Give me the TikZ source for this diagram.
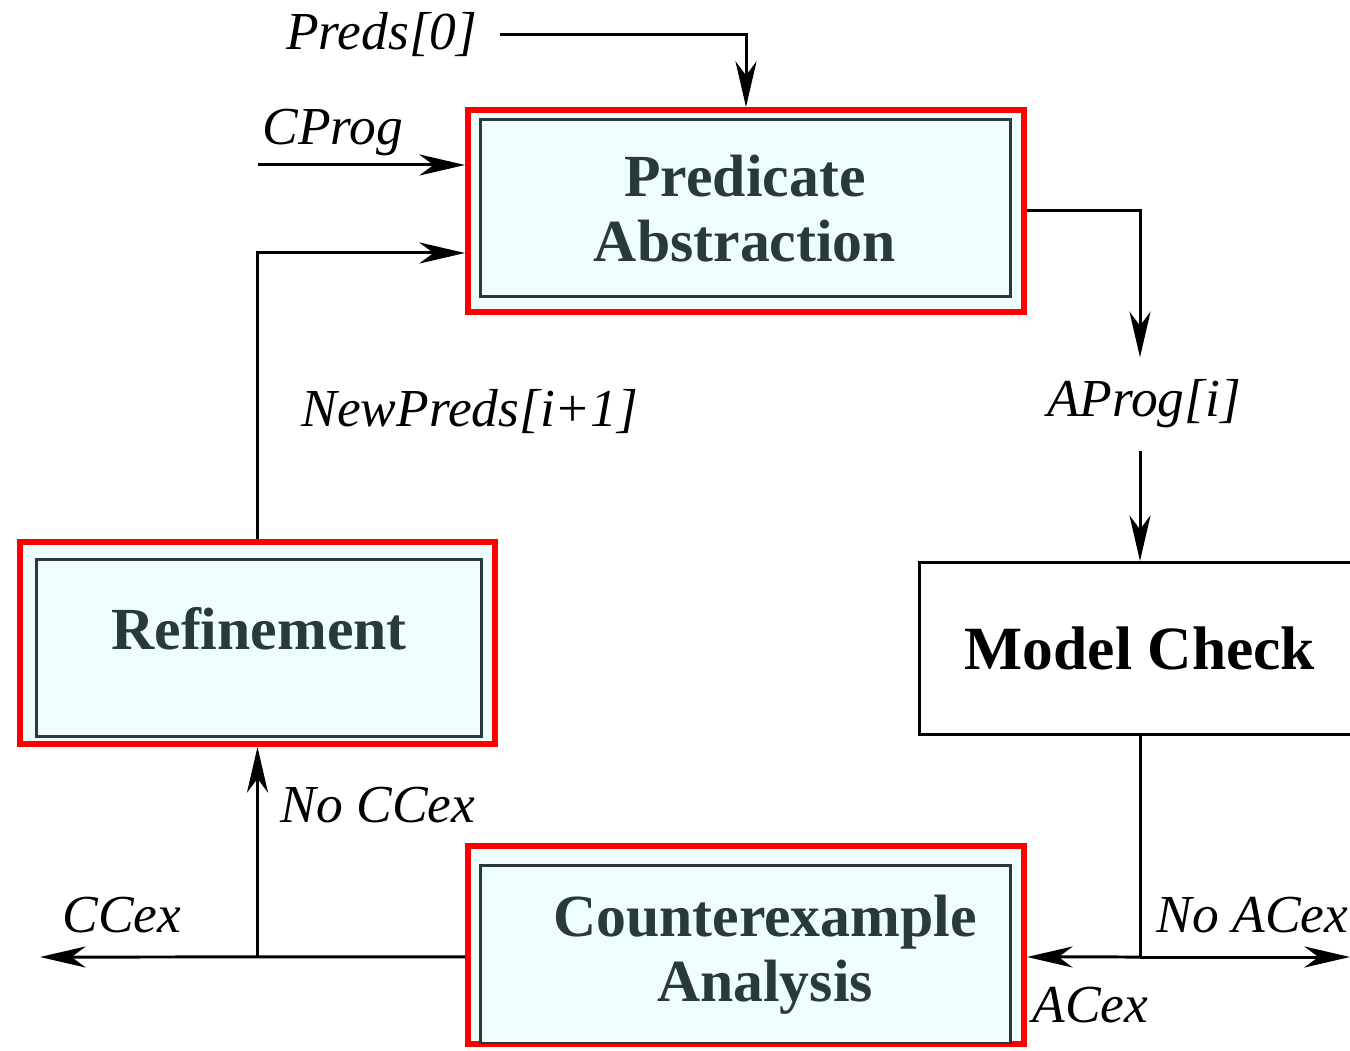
\documentclass[tikz,border=0pt]{standalone}
\usepackage{fontspec}
\setmainfont{Liberation Serif}
\usepackage{tikz}
\usetikzlibrary{arrows.meta, positioning, calc}
\definecolor{framered}{RGB}{255,0,0}
\definecolor{boxfill}{RGB}{238,253,253}
\definecolor{boxdark}{RGB}{40,58,58}
\tikzset{
  redframe/.style={rectangle, draw=framered, fill=boxfill, line width=0.06cm,
    minimum width=5.56cm, minimum height=2.02cm, inner sep=0pt},
  innerbox/.style={rectangle, draw=boxdark, fill=boxfill, line width=0.03cm,
    minimum width=5.3cm, minimum height=1.77cm, inner sep=0pt, align=center,
    text=boxdark, font=\fontsize{17}{18.5}\selectfont\bfseries},
  plainbox/.style={rectangle, draw=black, line width=0.03cm,
    minimum width=4.41cm, minimum height=1.72cm,
    font=\fontsize{17.5}{20}\selectfont\bfseries},
  lbl/.style={inner sep=0pt, font=\fontsize{15.2}{18}\selectfont\itshape},
  arrow/.style={-{Stealth[length=13pt, width=6pt, inset=4pt]}, line width=0.03cm},
  line/.style={line width=0.03cm}
}
\begin{document}
\begin{tikzpicture}
  \useasboundingbox (0,0) rectangle (13.5,10.5);

  % Boxes
  \node[redframe] (pa) at (7.46, 8.39) {};
  \node[innerbox] (pain) at (7.45, 8.415) {Predicate\\Abstraction};
  \node[redframe, minimum width=4.75cm] (ref) at (2.575, 4.07) {};
  \node[innerbox, minimum width=4.44cm, text depth=0.41cm] (refin) at (2.59, 4.015) {Refinement};
  \node[redframe, minimum height=1.98cm] (ce) at (7.46, 1.05) {};
  \node[innerbox] (cein) at (7.45, 0.955) {\hspace*{0.4cm}Counterexample\\\hspace*{0.4cm}Analysis};
  \node[plainbox] (mc) at (11.40, 4.015) {Model Check};

  % Labels
  \node[lbl, anchor=east, inner xsep=0.22cm] (preds) at (5.00, 10.15) {Preds[0]};
  \node[lbl, anchor=base west] (cprog) at (2.62, 9.05) {CProg};
  \coordinate (cprogin) at (2.58, 8.85);
  \node[lbl] (newpreds) at (4.70, 6.38) {NewPreds[i+1]};
  \node[lbl, minimum height=0.92cm] (aprog) at (11.44, 6.46) {AProg[i]};
  \node[lbl, anchor=base west] (nocex) at (2.80, 2.27) {No CCex};
  \node[lbl, anchor=base west] (ccex) at (0.62, 1.17) {CCex};
  \node[lbl, anchor=base west] (noacex) at (11.56, 1.17) {No ACex};
  \node[lbl, anchor=base west] (acex) at (10.32, 0.28) {ACex};
  \coordinate (ccexout) at (0.40, 0.93);
  \coordinate (noacexout) at (13.50, 0.93);

  % Paths
  \draw[arrow] (preds.east) -| (pa.north);
  \draw[arrow] (cprogin) -- (cprogin -| pa.west);
  \draw[arrow] (ref.north) |- ([yshift=-0.42cm]pa.west);
  \draw[arrow] (pa.east) -| (mc.north |- aprog.north);
  \draw[arrow] (mc.north |- aprog.south) -- (mc.north);
  \draw[line] (mc.south) -- (mc.south |- ccexout);
  \draw[arrow] (mc.south |- ccexout) -- ([yshift=-0.12cm]ce.east);
  \draw[arrow] (mc.south |- ccexout) -- (noacexout);
  \draw[arrow] ([yshift=-0.12cm]ce.west) -- (ccexout);
  \draw[arrow] (ref.south |- ccexout) -- (ref.south);
\end{tikzpicture}
\end{document}
